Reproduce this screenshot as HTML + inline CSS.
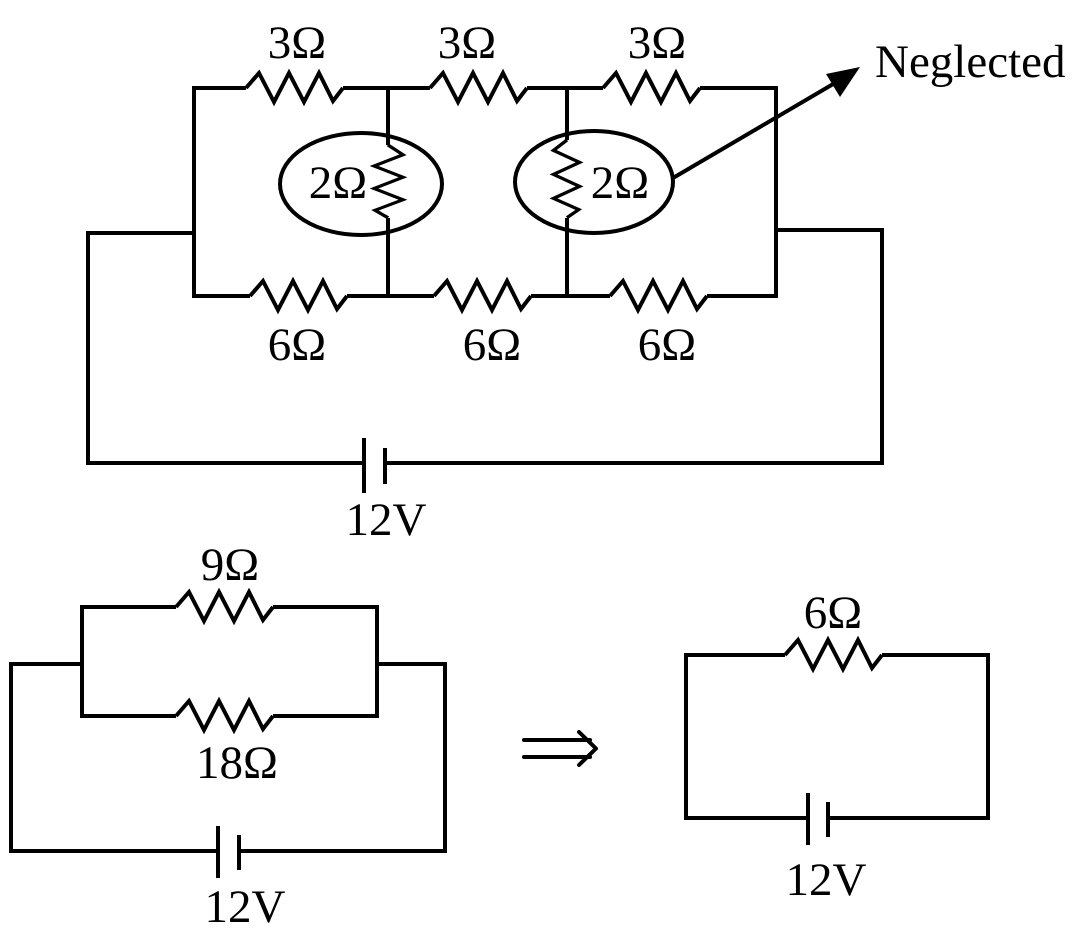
<!DOCTYPE html>
<html><head><style>
html,body{margin:0;padding:0;background:#fff;width:1085px;height:946px;overflow:hidden}
text{font-family:"Liberation Serif",serif;fill:#000;font-size:47px}
</style></head><body>
<svg width="1085" height="946" viewBox="0 0 1085 946" xmlns="http://www.w3.org/2000/svg">
<defs>
<polyline id="r" points="0,0 13,-15 28,14 43,-15 58,14 73,-15 87,13 97,0" fill="none" stroke="#000" stroke-width="4" stroke-linejoin="miter"/>
</defs>
<g fill="none" stroke="#000" stroke-width="4">
<polyline points="246,88 194,88 194,296 250,296"/>
<line x1="343" y1="88" x2="430" y2="88"/>
<line x1="527" y1="88" x2="603" y2="88"/>
<polyline points="700,88 776,88 776,296 707,296"/>
<line x1="347" y1="296" x2="434" y2="296"/>
<line x1="531" y1="296" x2="610" y2="296"/>
<line x1="388" y1="88" x2="388" y2="145"/>
<line x1="388" y1="218" x2="388" y2="296"/>
<line x1="567" y1="88" x2="567" y2="140"/>
<line x1="567" y1="218" x2="567" y2="296"/>
<ellipse cx="361" cy="184" rx="81" ry="51"/>
<ellipse cx="594" cy="182" rx="79" ry="51"/>
<polyline points="194,233 88,233 88,463 364,463"/>
<polyline points="776,230 882,230 882,463 385,463"/>
<line x1="364" y1="438" x2="364" y2="493"/>
<line x1="385" y1="448" x2="385" y2="484"/>
<line x1="673" y1="178" x2="840" y2="80"/>
<polyline points="176,607 82,607 82,716 176,716"/>
<polyline points="273,607 377,607 377,716 273,716"/>
<polyline points="82,664 11,664 11,851 218,851"/>
<polyline points="377,664 445,664 445,851 239,851"/>
<line x1="218" y1="826" x2="218" y2="878"/>
<line x1="239" y1="835" x2="239" y2="870"/>
<polyline points="785,655 686,655 686,818 808,818"/>
<polyline points="882,655 988,655 988,818 828,818"/>
<line x1="808" y1="793" x2="808" y2="845"/>
<line x1="828" y1="802" x2="828" y2="837"/>
</g>
<g fill="none" stroke="#000" stroke-width="4" stroke-linecap="round" stroke-linejoin="round">
<line x1="524" y1="740" x2="590" y2="740"/>
<line x1="524" y1="757" x2="590" y2="757"/>
<polyline points="579,732 596,748.5 579,765"/>
</g>
<polygon points="860,67 826,74 840,97" fill="#000"/>
<use href="#r" transform="translate(246,88)"/>
<use href="#r" transform="translate(430,88)"/>
<use href="#r" transform="translate(603,88)"/>
<use href="#r" transform="translate(250,296)"/>
<use href="#r" transform="translate(434,296)"/>
<use href="#r" transform="translate(610,296)"/>
<use href="#r" transform="translate(388,145) rotate(90) scale(0.75,1)"/>
<use href="#r" transform="translate(567,140) rotate(90) scale(0.8,-0.9)"/>
<use href="#r" transform="translate(176,607)"/>
<use href="#r" transform="translate(176,716)"/>
<use href="#r" transform="translate(785,655)"/>
<g text-anchor="middle">
<text x="297" y="58">3Ω</text>
<text x="467" y="58">3Ω</text>
<text x="657" y="58">3Ω</text>
<text x="297" y="360">6Ω</text>
<text x="492" y="360">6Ω</text>
<text x="667" y="360">6Ω</text>
<text x="338" y="198" font-size="43">2Ω</text>
<text x="620" y="198" font-size="43">2Ω</text>
<text x="386" y="535">12V</text>
<text x="230" y="580">9Ω</text>
<text x="237" y="778">18Ω</text>
<text x="245" y="922">12V</text>
<text x="833" y="628">6Ω</text>
<text x="826" y="895">12V</text>
</g>
<text x="875" y="77" font-size="49">Neglected</text>
</svg>
</body></html>
